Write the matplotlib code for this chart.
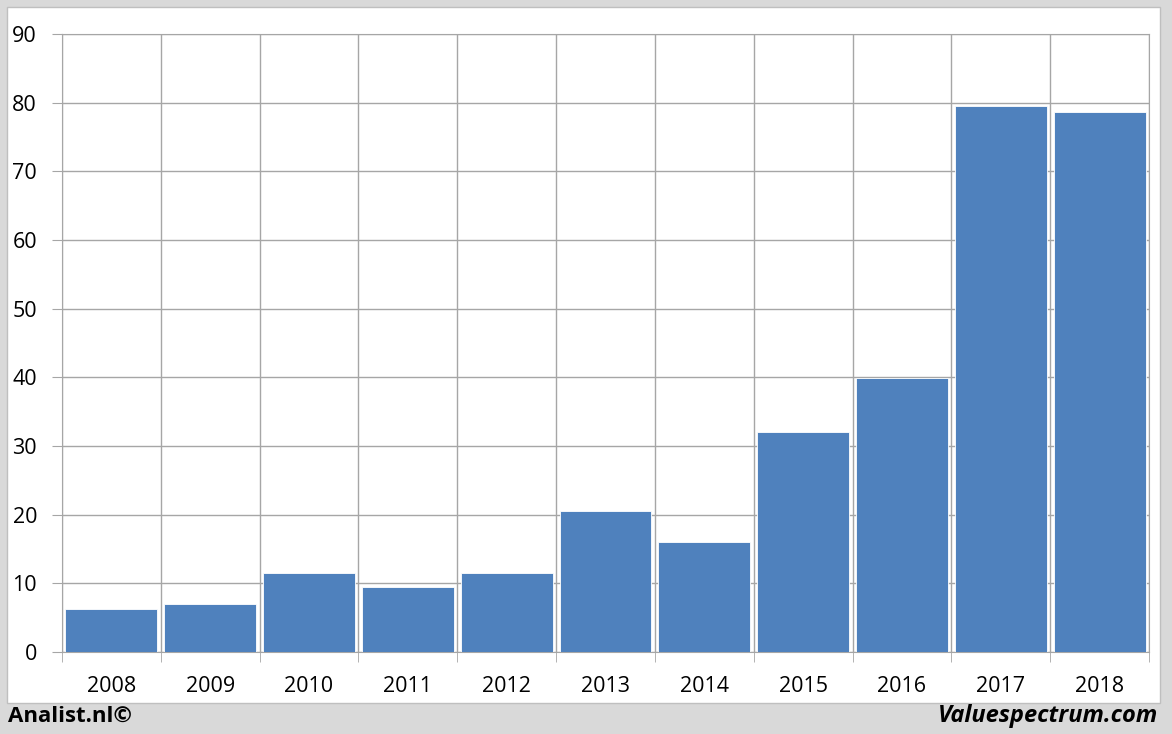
import matplotlib
matplotlib.use("Agg")
import matplotlib.pyplot as plt
from matplotlib.patches import Rectangle
import numpy as np

years = ["2008", "2009", "2010", "2011", "2012", "2013", "2014", "2015", "2016", "2017", "2018"]
values = [6.2, 7.0, 11.5, 9.5, 11.5, 20.5, 16.0, 32.0, 39.9, 79.5, 78.6]
yticks = [0, 10, 20, 30, 40, 50, 60, 70, 80, 90]

W, H = 1172, 734
fig = plt.figure(figsize=(W / 100, H / 100), dpi=100)
fig.patch.set_facecolor("#d9d9d9")

# white panel
panel = Rectangle((7 / W, (H - 703) / H), (1160 - 7) / W, (703 - 7) / H,
                  transform=fig.transFigure, facecolor="white",
                  edgecolor="#bfbfbf", linewidth=1, zorder=-5)
fig.patches.append(panel)

ax = fig.add_axes([62 / W, (H - 652) / H, (1149 - 62) / W, (652 - 34) / H])
ax.set_zorder(2)
ax.set_facecolor("white")
x = np.arange(len(years))
ax.bar(x, values, width=0.93, color="#4f81bd", edgecolor="white", linewidth=0.6, zorder=3)

ax.set_xlim(-0.5, len(years) - 0.5)
ax.set_ylim(0, 90)
ax.set_yticks(yticks)
ax.set_yticklabels([str(t) for t in yticks])
ax.set_xticks(x)
ax.set_xticklabels(years)
ax.set_xticks(np.arange(-0.5, len(years)), minor=True)

grid_c = "#a6a6a6"
ax.yaxis.grid(True, color=grid_c, linewidth=1, zorder=0)
ax.xaxis.grid(True, which="minor", color=grid_c, linewidth=1, zorder=0)
ax.xaxis.grid(False, which="major")
ax.set_axisbelow(True)

for s in ["top", "right", "left", "bottom"]:
    ax.spines[s].set_color(grid_c)

ax.tick_params(axis="y", length=7, color=grid_c, labelsize=15.5, pad=11)
ax.tick_params(axis="x", which="major", length=0, labelsize=15.5, pad=17)
ax.tick_params(axis="x", which="minor", length=7, color=grid_c)
for lab in ax.get_xticklabels() + ax.get_yticklabels():
    lab.set_fontfamily("Open Sans")

fig.text(8 / W, 1 - 716 / H, "Analist.nl©", fontsize=16, fontweight="bold",
         fontfamily="Open Sans", ha="left", va="center")
fig.text(1158 / W, 1 - 716 / H, "Valuespectrum.com", fontsize=17, fontweight="bold",
         fontstyle="italic", fontfamily="Open Sans", ha="right", va="center")

fig.savefig("out.png", dpi=100, facecolor=fig.get_facecolor())
